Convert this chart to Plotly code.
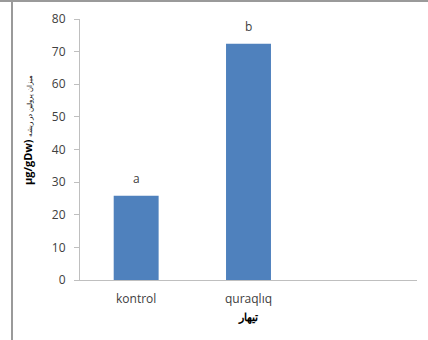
import plotly.graph_objects as go

# Proline content by treatment
categories = ["kontrol", "quraqlıq", " "]
values = [25.8, 72.4, None]
letters = ["a", "b", ""]
y_ticks = [0, 10, 20, 30, 40, 50, 60, 70, 80]

bar_color = "#4F81BD"
axis_color = "#BFBFBF"
text_color = "#404040"
font_family = "Open Sans, Liberation Sans, sans-serif"

fig = go.Figure()
fig.add_trace(go.Bar(
    x=categories, y=values,
    marker=dict(color=bar_color, line=dict(width=0)),
    hoverinfo="skip",
))

# significance letters above the bars
for cat, val, lab in zip(categories, values, letters):
    if lab and val is not None:
        fig.add_annotation(
            x=cat, y=val, text=lab, showarrow=False,
            yanchor="bottom", yshift=7,
            font=dict(family=font_family, size=12, color=text_color),
        )

# y-axis title, placed as a rotated annotation
fig.add_annotation(
    xref="paper", yref="paper", x=-52 / 337, y=0.575,
    text="<b>µg/gDw)</b> <span style='font-size:7px'>میزان پرولین در ریشه</span>",
    textangle=-90, showarrow=False, xanchor="center", yanchor="middle",
    font=dict(family=font_family, size=11, color="black"),
)

# outer frame lines (top and left)
fig.add_shape(type="line", xref="paper", yref="paper",
              x0=-80 / 337, x1=1.1, y0=1 + 18 / 261, y1=1 + 18 / 261,
              line=dict(color="#9A9A9A", width=2))
fig.add_shape(type="line", xref="paper", yref="paper",
              x0=-68 / 337, x1=-68 / 337, y0=-0.3, y1=1 + 18 / 261,
              line=dict(color="#9A9A9A", width=2))

fig.update_layout(
    width=428, height=340,
    margin=dict(l=80, r=11, t=19, b=60),
    paper_bgcolor="white", plot_bgcolor="white",
    bargap=0.6,
    showlegend=False,
    font=dict(family=font_family, color=text_color),
    xaxis=dict(
        showline=True, linecolor=axis_color, linewidth=1,
        ticks="", tickfont=dict(size=12, color=text_color),
        ticklabelstandoff=8,
        title=dict(text="<b>تیهار</b>", font=dict(size=11, color="black"), standoff=6),
    ),
    yaxis=dict(
        range=[0, 80], tickvals=y_ticks,
        showline=True, linecolor=axis_color, linewidth=1,
        ticks="outside", ticklen=5, tickcolor=axis_color,
        ticklabelstandoff=6,
        showgrid=False, zeroline=False,
        tickfont=dict(size=12, color=text_color),
    ),
)

fig.write_html("out.html")
